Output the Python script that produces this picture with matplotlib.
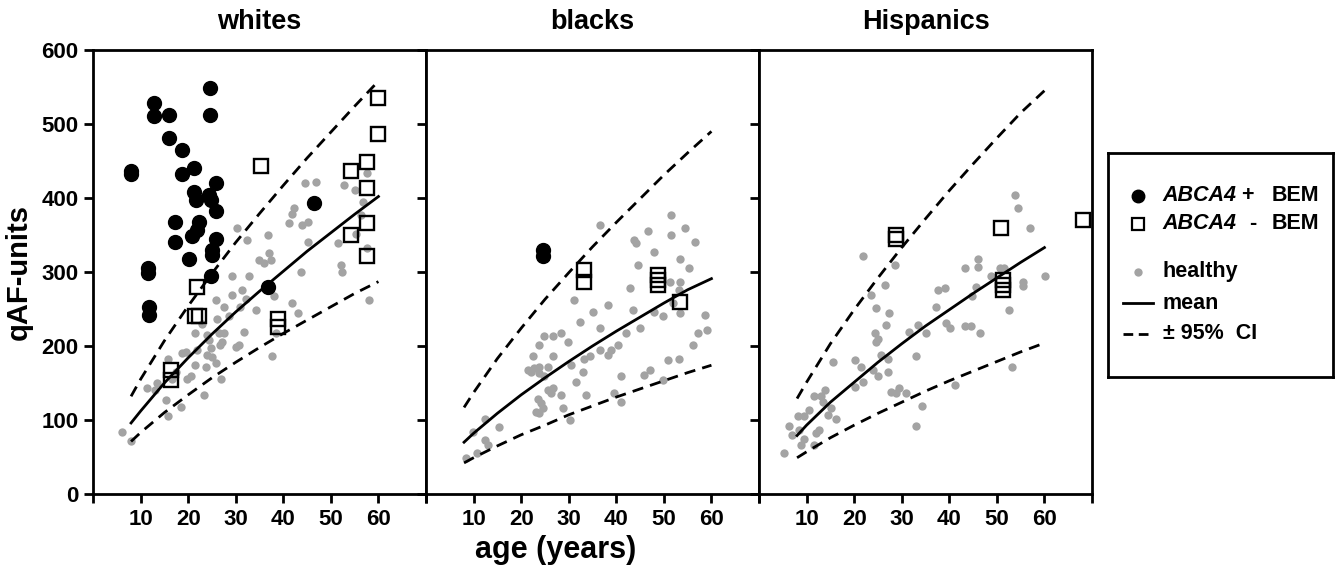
import numpy as np
import matplotlib.pyplot as plt

plt.rcParams['font.family'] = ['Liberation Sans', 'DejaVu Sans']
plt.rcParams['font.weight'] = 'bold'

# -----------------------------
# data
# -----------------------------
curve_age = [8, 10, 15, 20, 25, 30, 35, 40, 45, 50, 55, 60]

whites_mean = [96, 112, 150, 184, 216, 246, 274, 301, 328, 353, 378, 402]
whites_upper = [132, 155, 207, 254, 298, 340, 379, 417, 454, 489, 524, 558]
whites_lower = [71, 83, 110, 134, 157, 178, 198, 217, 235, 253, 271, 287]

blacks_mean = [70, 82, 109, 134, 157, 179, 200, 220, 239, 258, 276, 291]
blacks_upper = [117, 137, 183, 224, 263, 299, 334, 367, 399, 431, 461, 490]
blacks_lower = [42, 49, 65, 80, 93, 107, 119, 131, 142, 153, 164, 174]

hisp_mean = [79, 93, 124, 151, 178, 203, 227, 249, 271, 292, 313, 333]
hisp_upper = [129, 151, 203, 249, 292, 333, 372, 410, 446, 481, 515, 545]
hisp_lower = [49, 57, 76, 93, 109, 124, 139, 153, 166, 179, 192, 204]

# whites
whites_healthy_age = [6.1, 7.9, 11.4, 13.5, 15.8, 15.8, 15.3, 18.4, 18.8, 19.5, 19.8, 16.7,
                      21.4, 21.4, 21.9, 23.3, 23.7, 24.0, 24.0, 24.4, 24.7, 25.8, 25.8, 26.1,
                      26.5, 26.6, 27.2, 27.0, 27.5, 27.5, 29.3, 29.3, 30.0, 30.3, 30.7, 31.0,
                      31.4, 31.8, 32.1, 32.4, 32.8, 34.2, 34.9, 35.9, 36.8, 37.0, 37.4, 37.7,
                      38.1, 38.4, 41.2, 41.9, 41.9, 42.3, 43.0, 43.7, 44.0, 45.1, 45.1, 44.6,
                      46.8, 51.4, 52.1, 52.4, 52.8, 55.0, 55.3, 56.3, 56.7, 57.5, 58.1, 57.7,
                      13.0, 17.5, 20.5, 23.0, 25.0, 28.5]
whites_healthy_qaf = [84, 71, 143, 150, 182, 105, 127, 118, 190, 192, 156, 156,
                      217, 174, 195, 134, 172, 215, 188, 208, 197, 262, 177, 237,
                      217, 201, 206, 156, 217, 253, 294, 269, 199, 359, 201, 253,
                      276, 219, 264, 343, 294, 249, 316, 312, 350, 325, 316, 186,
                      267, 217, 366, 379, 258, 386, 244, 300, 364, 368, 341, 420,
                      421, 339, 309, 300, 418, 411, 352, 377, 395, 434, 262, 332,
                      140, 165, 160, 230, 185, 240]
whites_pos_age = [24.5, 12.9, 12.9, 16.0, 24.5, 16.0, 18.8, 7.9, 7.9, 21.2, 18.8, 21.2,
                  21.6, 24.4, 24.7, 25.9, 25.8, 17.2, 22.3, 21.9, 20.9, 17.2, 25.8, 25.1,
                  25.1, 20.2, 11.6, 11.6, 24.9, 11.7, 11.7, 36.7, 46.5]
whites_pos_qaf = [549, 528, 511, 512, 512, 481, 465, 436, 432, 440, 432, 408,
                  397, 404, 397, 420, 382, 367, 368, 357, 348, 341, 344, 330,
                  323, 318, 305, 298, 295, 253, 242, 280, 393]
whites_neg_age = [60.0, 60.0, 35.3, 54.2, 57.6, 57.6, 57.6, 54.2, 57.6, 21.9, 21.4, 22.3,
                  38.8, 38.8, 16.5, 16.5]
whites_neg_qaf = [535, 486, 443, 436, 448, 414, 366, 350, 321, 280, 240, 240,
                  237, 226, 168, 154]

# blacks
blacks_healthy_age = [8.4, 9.8, 10.8, 12.3, 12.3, 13.0, 15.4, 22.1, 22.4, 23.8, 24.9, 26.6,
                      26.6, 21.4, 22.8, 23.8, 25.6, 23.8, 24.9, 25.6, 26.6, 26.3, 23.5, 24.2,
                      23.1, 23.8, 24.5, 28.4, 29.8, 28.4, 28.7, 30.2, 30.5, 31.2, 31.6, 32.3,
                      33.0, 33.3, 33.7, 34.4, 35.1, 36.5, 36.5, 36.5, 38.2, 38.2, 38.9, 40.3,
                      39.6, 41.0, 41.0, 42.1, 42.8, 43.5, 43.8, 44.2, 44.5, 44.9, 45.9, 47.0,
                      46.6, 48.0, 48.0, 49.8, 49.8, 50.8, 51.2, 51.4, 51.4, 53.2, 53.3, 53.2,
                      53.3, 53.3, 54.5, 55.2, 56.1, 56.5, 57.2, 58.6, 59.1, 51.9]
blacks_healthy_qaf = [48, 84, 55, 102, 73, 66, 91, 165, 186, 201, 213, 213,
                      186, 168, 170, 172, 172, 163, 159, 141, 143, 136, 129, 123,
                      111, 109, 116, 217, 206, 134, 116, 100, 174, 262, 152, 233,
                      165, 183, 134, 186, 246, 364, 224, 195, 255, 188, 195, 201,
                      136, 125, 159, 217, 278, 249, 343, 339, 309, 224, 161, 168,
                      355, 327, 246, 240, 154, 181, 287, 377, 350, 276, 287, 183,
                      318, 244, 359, 305, 201, 341, 217, 242, 222, 258]
blacks_pos_age = [24.5, 24.5]
blacks_pos_qaf = [330, 322]
blacks_neg_age = [33.3, 33.3, 48.7, 48.7, 48.7, 53.3]
blacks_neg_qaf = [303, 287, 296, 289, 282, 260]

# Hispanics
hisp_healthy_age = [5.3, 6.4, 6.9, 8.1, 8.5, 8.8, 9.5, 9.5, 10.6, 11.6, 12.0, 11.6,
                    12.7, 13.1, 13.8, 13.4, 14.5, 15.2, 16.2, 15.5, 20.1, 20.1, 21.8, 21.5,
                    21.8, 23.6, 23.9, 24.6, 24.3, 25.0, 24.6, 25.0, 25.7, 26.4, 26.7, 27.1,
                    27.1, 27.4, 27.8, 28.5, 28.8, 29.5, 31.0, 31.6, 32.9, 32.9, 33.4, 34.3,
                    35.2, 37.3, 37.6, 39.0, 39.4, 40.1, 41.3, 43.2, 44.6, 43.4, 44.8, 45.7,
                    46.0, 46.0, 46.4, 48.8, 50.6, 51.6, 52.6, 53.1, 53.8, 54.5, 55.5, 55.5,
                    56.9, 60.1]
hisp_healthy_qaf = [55, 92, 80, 105, 86, 66, 105, 75, 114, 66, 82, 132,
                    86, 132, 141, 125, 107, 116, 102, 179, 181, 145, 321, 172,
                    152, 269, 168, 251, 217, 210, 206, 159, 188, 282, 228, 183,
                    165, 244, 138, 309, 136, 143, 136, 219, 186, 92, 228, 119,
                    217, 253, 276, 278, 231, 224, 147, 227, 227, 306, 267, 280,
                    318, 307, 217, 294, 305, 305, 249, 172, 404, 386, 287, 281,
                    359, 294]
hisp_pos_age = []
hisp_pos_qaf = []
hisp_neg_age = [28.7, 28.7, 50.9, 51.3, 51.3, 51.3, 68.1]
hisp_neg_qaf = [350, 345, 359, 289, 282, 276, 370]

groups = ["whites", "blacks", "Hispanics"]
healthy = [(whites_healthy_age, whites_healthy_qaf), (blacks_healthy_age, blacks_healthy_qaf),
           (hisp_healthy_age, hisp_healthy_qaf)]
pos = [(whites_pos_age, whites_pos_qaf), (blacks_pos_age, blacks_pos_qaf), (hisp_pos_age, hisp_pos_qaf)]
neg = [(whites_neg_age, whites_neg_qaf), (blacks_neg_age, blacks_neg_qaf), (hisp_neg_age, hisp_neg_qaf)]
means = [whites_mean, blacks_mean, hisp_mean]
uppers = [whites_upper, blacks_upper, hisp_upper]
lowers = [whites_lower, blacks_lower, hisp_lower]

# -----------------------------
# plot
# -----------------------------
W, H = 1341, 568
fig = plt.figure(figsize=(W / 100, H / 100), dpi=100)

gray = '#a3a3a3'
lw = 2.0
left0, pw = 93 / W, 333 / W
bottom, ph = (H - 494) / H, 444 / H

for i, name in enumerate(groups):
    ax = fig.add_axes([left0 + i * pw, bottom, pw, ph])
    ax.plot(*healthy[i], 'o', color=gray, ms=6, mec='none', zorder=2)
    ax.plot(curve_age, means[i], '-', color='black', lw=lw, zorder=3)
    ax.plot(curve_age, uppers[i], '--', color='black', lw=lw, dashes=(4, 2.6), zorder=3)
    ax.plot(curve_age, lowers[i], '--', color='black', lw=lw, dashes=(4, 2.6), zorder=3)
    if len(pos[i][0]):
        ax.plot(*pos[i], 'o', color='black', ms=10, mec='black', zorder=4)
    ax.plot(*neg[i], 's', mfc='none', mec='black', mew=1.7, ms=10, zorder=5, clip_on=False)

    ax.set_xlim(0, 70)
    ax.set_ylim(0, 600)
    ax.set_xticks(range(0, 71, 10))
    ax.set_xticklabels([''] + [str(v) for v in range(10, 61, 10)] + [''])
    ax.set_yticks(range(0, 601, 100))
    if i > 0:
        ax.set_yticklabels([])
    else:
        ax.set_ylabel('qAF-units', fontsize=21, fontweight='bold', labelpad=6)
    for sp in ax.spines.values():
        sp.set_linewidth(lw)
    ax.tick_params(direction='out', length=6.5, width=lw, labelsize=16, pad=4)
    ax.set_title(name, fontsize=19.5, fontweight='bold', pad=15)
    if i == 1:
        ax.set_xlabel('age (years)', fontsize=22, fontweight='bold', labelpad=6)
        ax.xaxis.set_label_coords(0.39, -0.093)

# legend panel
lg = fig.add_axes([1108 / W, (H - 377) / H, 225 / W, 224 / H])
lg.set_xlim(0, 1)
lg.set_ylim(0, 1)
lg.set_xticks([])
lg.set_yticks([])
for sp in lg.spines.values():
    sp.set_linewidth(lw)

rows = [0.81, 0.685, 0.47, 0.33, 0.192]
fs = 15.5
lg.plot([0.133], [rows[0]], 'o', color='black', ms=9)
lg.plot([0.133], [rows[1]], 's', mfc='none', mec='black', mew=1.6, ms=9)
lg.plot([0.133], [rows[2]], 'o', color=gray, ms=6, mec='none')
lg.plot([0.067, 0.2], [rows[3], rows[3]], '-', color='black', lw=lw)
lg.plot([0.067, 0.2], [rows[4], rows[4]], '--', color='black', lw=lw, dashes=(3.5, 2))

lg.text(0.244, rows[0], 'ABCA4', fontsize=fs, fontweight='bold', style='italic', va='center')
lg.text(0.59, rows[0], '+', fontsize=fs, fontweight='bold', va='center')
lg.text(0.728, rows[0], 'BEM', fontsize=fs, fontweight='bold', va='center')
lg.text(0.244, rows[1], 'ABCA4', fontsize=fs, fontweight='bold', style='italic', va='center')
lg.text(0.625, rows[1], '-', fontsize=fs, fontweight='bold', va='center')
lg.text(0.728, rows[1], 'BEM', fontsize=fs, fontweight='bold', va='center')
lg.text(0.244, rows[2], 'healthy', fontsize=fs, fontweight='bold', va='center')
lg.text(0.244, rows[3], 'mean', fontsize=fs, fontweight='bold', va='center')
lg.text(0.244, rows[4], '\u00b1 95%  CI', fontsize=fs, fontweight='bold', va='center')

plt.savefig('out.png', dpi=100)
